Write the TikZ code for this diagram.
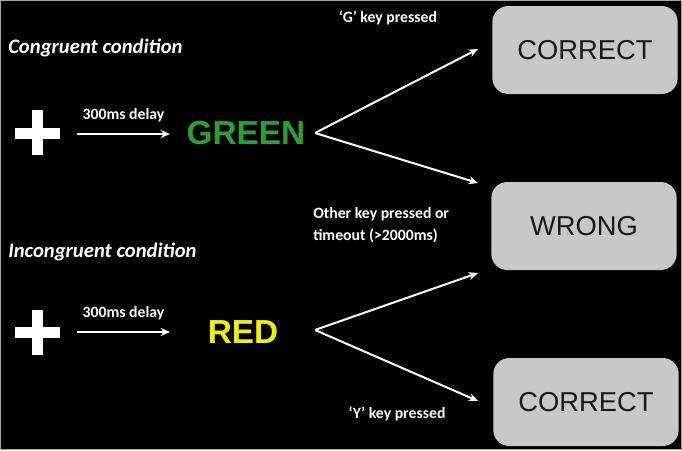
\documentclass[tikz,border=0pt]{standalone}
\usepackage{fontspec}
\setmainfont{Carlito}
\newfontfamily\arialf{Liberation Sans}
\usetikzlibrary{arrows.meta}
\definecolor{boxgray}{RGB}{200,200,200}
\definecolor{wordgreen}{RGB}{40,160,50}
\definecolor{wordyellow}{RGB}{240,240,0}
\definecolor{boxtext}{RGB}{25,25,25}
\tikzset{
  conn/.style={draw=white, line width=1.5pt, -{Stealth[length=7pt,width=6pt]}},
  heading/.style={text=white, font=\fontsize{15.5}{18}\selectfont\bfseries\itshape, anchor=west, inner sep=0pt},
  lbl/.style={text=white, font=\fontsize{11.8}{14}\selectfont\bfseries, inner sep=0pt},
  resultbox/.style={fill=boxgray, rounded corners=12pt, minimum width=139pt, minimum height=66pt, text=boxtext, font=\arialf\fontsize{20.5}{24}\selectfont},
  word/.style={font=\arialf\bfseries\fontsize{25}{30}\selectfont, inner sep=0pt},
  plusbar/.style={fill=white, draw=none}
}
\begin{document}
\begin{tikzpicture}[x=0.75pt, y=-0.75pt]
\fill[black] (0,0) rectangle (682,450);
\useasboundingbox (0,0) rectangle (682,450);
\draw[gray!70, line width=0.75pt] (0.5,0.5) rectangle (681.5,449.5);

% headings
\node[heading] (h1) at (8,48) {Congruent condition};
\node[heading] (h2) at (8,252) {Incongruent condition};

% plus signs
\fill[plusbar] (15,128) rectangle (60,139);
\fill[plusbar] (32,110) rectangle (43,155);
\fill[plusbar] (15,327) rectangle (60,338);
\fill[plusbar] (32,310) rectangle (43,355);
\coordinate (p1) at (77,134);
\coordinate (p2) at (77,332);

% words
\node[word, text=wordgreen] (green) at (246,133) {GREEN};
\node[word, text=wordyellow] (red) at (243,332) {RED};
\coordinate (g1) at (170,134);
\coordinate (r1) at (170,332);
\draw[conn] (p1) -- node[lbl, above=8pt] {300ms delay} (g1);
\draw[conn] (p2) -- node[lbl, above=8pt] {300ms delay} (r1);

% result boxes
\node[resultbox] (c1) at (585,50) {CORRECT};
\node[resultbox] (w) at (584,226) {WRONG};
\node[resultbox] (c2) at (586,402) {CORRECT};

% forks
\coordinate (v1) at (315,133);
\coordinate (v2) at (315,330);
\coordinate (e1) at (478,49);
\coordinate (e2) at (478,183);
\coordinate (e3) at (478,273);
\coordinate (e4) at (478,401);
\draw[conn] (v1) -- (e1);
\draw[conn] (v1) -- (e2);
\draw[conn] (v2) -- (e3);
\draw[conn] (v2) -- (e4);

% labels
\node[lbl] (lg) at (388,18) {‘G’ key pressed};
\node[lbl, anchor=west, align=left] (lo) at (313,225) {Other key pressed or\\[2pt]timeout (>2000ms)};
\node[lbl] (ly) at (397,414) {‘Y’ key pressed};
\end{tikzpicture}
\end{document}
